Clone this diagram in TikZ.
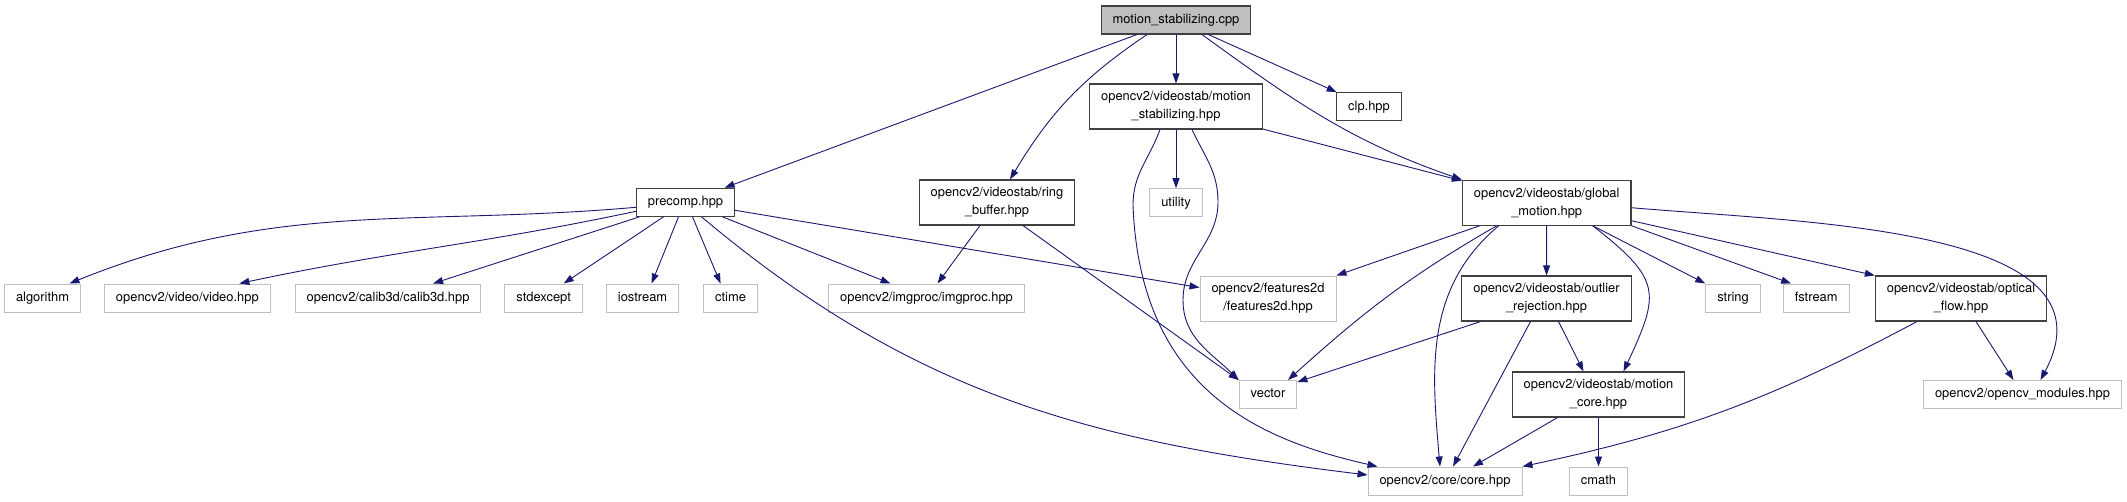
\documentclass[tikz,border=0pt]{standalone}
\usepackage{fontspec}
\setmainfont{TeX Gyre Heros}
\usepackage{xcolor}
\usepackage{tikz}
\usetikzlibrary{arrows.meta, positioning}
\definecolor{edgeblue}{HTML}{191970}
\definecolor{boxgray}{HTML}{BFBFBF}
\definecolor{boxedge}{HTML}{404040}
\newcommand{\hdrfont}{\fontsize{12.9}{18}\selectfont}
\tikzset{
    srcfile/.style={rectangle, draw=boxedge, fill=boxgray, line width=1.1pt, inner xsep=11.5pt, minimum height=28pt, text height=9.4pt, text depth=2.6pt, font=\hdrfont},
    hdrone/.style={rectangle, draw=boxedge, fill=white, line width=1.1pt, inner xsep=11.5pt, minimum height=28pt, text height=9.4pt, text depth=2.6pt, font=\hdrfont},
    hdr/.style={rectangle, draw=boxedge, fill=white, line width=1.1pt, inner xsep=11.5pt, minimum height=45pt, align=center, font=\hdrfont},
    syshdr/.style={rectangle, draw=boxgray, fill=white, line width=1pt, inner xsep=11.5pt, minimum height=28pt, text height=9.4pt, text depth=2.6pt, font=\hdrfont},
    syshdrtwo/.style={rectangle, draw=boxgray, fill=white, line width=1pt, inner xsep=11.5pt, minimum height=45pt, align=center, font=\hdrfont},
    arrow/.style={-{Triangle[length=10pt, width=7pt]}, edgeblue, line width=0.9pt},
}
\begin{document}
\begin{tikzpicture}[x=1pt, y=1pt, node distance=23pt]
    \useasboundingbox (0,0) rectangle (2127,-501);

    % Source file
    \node[srcfile] (root) at (1176,-20) {motion\_stabilizing.cpp};

    % Direct includes
    \node[hdr] (msh) at (1176,-106.5) {opencv2/videostab/motion\\\_stabilizing.hpp};
    \node[hdrone] (clp) at (1369,-106.7) {clp.hpp};
    \node[hdrone] (precomp) at (685.5,-202.3) {precomp.hpp};
    \node[hdr] (ringbuf) at (997,-202.5) {opencv2/videostab/ring\\\_buffer.hpp};
    \node[syshdr] (utility) at (1176,-202.7) {utility};
    \node[hdr] (globalm) at (1546.7,-202.7) {opencv2/videostab/global\\\_motion.hpp};

    % Headers pulled in by precomp.hpp
    \node[syshdr] (algorithm) at (42.5,-298) {algorithm};
    \node[syshdr, right=23pt of algorithm] (video) {opencv2/video/video.hpp};
    \node[syshdr, right=24pt of video] (calib) {opencv2/calib3d/calib3d.hpp};
    \node[syshdr, right=23pt of calib] (stdexcept) {stdexcept};
    \node[syshdr, right=23pt of stdexcept] (iostream) {iostream};
    \node[syshdr, right=24pt of iostream] (ctime) {ctime};
    \node[syshdr] (imgproc) at (926.5,-298) {opencv2/imgproc/imgproc.hpp};
    \node[syshdrtwo] (features) at (1268,-298.5) {opencv2/features2d\\/features2d.hpp};

    % Headers pulled in by global_motion.hpp
    \node[hdr] (outlier) at (1546.5,-298.5) {opencv2/videostab/outlier\\\_rejection.hpp};
    \node[syshdr] (string) at (1733,-298) {string};
    \node[syshdr, right=22pt of string] (fstream) {fstream};
    \node[hdr] (optical) at (1961,-298.5) {opencv2/videostab/optical\\\_flow.hpp};
    \node[syshdr] (vector) at (1268,-394.5) {vector};
    \node[hdr] (motioncore) at (1598.5,-394.5) {opencv2/videostab/motion\\\_core.hpp};
    \node[syshdr] (modules) at (2022.5,-394.5) {opencv2/opencv\_modules.hpp};
    \node[syshdr] (core) at (1445,-481) {opencv2/core/core.hpp};
    \node[syshdr] (cmath) at (1598.5,-481) {cmath};

    % From the source file
    \draw[arrow] (root) -- (precomp);
    \draw[arrow] ([xshift=-29pt]root.south) to[out=-146, in=59] ([xshift=13pt]ringbuf.north);
    \draw[arrow] (root) -- (msh);
    \draw[arrow] (root) -- (clp);
    \draw[arrow] ([xshift=26pt]root.south) to[out=-36, in=161] (globalm.north west);

    % From motion_stabilizing.hpp
    \draw[arrow] (msh) -- (utility);
    \draw[arrow] (msh) -- (globalm);
    \draw[arrow] ([xshift=16pt]msh.south) to[out=-65, in=90] (1218,-202) to[out=-90, in=90] (1183,-300) to[out=-90, in=135] (vector.north west);
    \draw[arrow] ([xshift=-16pt]msh.south) to[out=-110, in=90] (1133,-205) .. controls (1140,-390) and (1260,-440) .. ([xshift=10pt]core.north west);

    % From precomp.hpp
    \draw[arrow] ([yshift=-5pt]precomp.west) to[out=-175, in=22] ([xshift=27pt]algorithm.north);
    \draw[arrow] ([yshift=-9pt]precomp.west) to[out=-168, in=12] ([xshift=52pt]video.north);
    \draw[arrow] ([xshift=-46pt]precomp.south) -- ([xshift=45pt]calib.north);
    \draw[arrow] ([xshift=-22pt]precomp.south) -- ([xshift=20pt]stdexcept.north);
    \draw[arrow] ([xshift=-7pt]precomp.south) -- ([xshift=9pt]iostream.north);
    \draw[arrow] ([xshift=7pt]precomp.south) -- ([xshift=-10pt]ctime.north);
    \draw[arrow] ([xshift=37pt]precomp.south) -- ([xshift=-36pt]imgproc.north);
    \draw[arrow] ([yshift=-8pt]precomp.east) -- ([yshift=11pt]features.west);
    \draw[arrow] ([xshift=16pt]precomp.south) to[out=-40, in=173] ([yshift=6pt]core.west);

    % From ring_buffer.hpp
    \draw[arrow] ([xshift=-17pt]ringbuf.south) -- ([xshift=11pt]imgproc.north);
    \draw[arrow] ([xshift=26pt]ringbuf.south) -- (vector.north west);

    % From global_motion.hpp
    \draw[arrow] ([xshift=-67pt]globalm.south) -- (features.north east);
    \draw[arrow] ([xshift=-50pt]globalm.south) to[out=-150, in=42] ([xshift=20pt]vector.north);
    \draw[arrow] ([xshift=-48pt]globalm.south) to[out=-140, in=95] ([xshift=-5pt]core.north);
    \draw[arrow] (globalm) -- (outlier);
    \draw[arrow] ([xshift=46pt]globalm.south) to[out=-38, in=65, looseness=1.5] ([xshift=25pt]motioncore.north);
    \draw[arrow] ([xshift=46pt]globalm.south) -- (string.north west);
    \draw[arrow] (globalm.south east) -- ([xshift=-25pt]fstream.north);
    \draw[arrow] ([yshift=-18pt]globalm.east) -- (optical.north west);
    \draw[arrow] ([yshift=-5pt]globalm.east) to[out=-5, in=62] ([xshift=18pt]modules.north);

    % From outlier_rejection.hpp
    \draw[arrow] ([xshift=-66pt]outlier.south) -- ([yshift=-2pt]vector.north east);
    \draw[arrow] ([xshift=-16pt]outlier.south) -- ([xshift=8pt]core.north);
    \draw[arrow] ([xshift=12pt]outlier.south) -- ([xshift=-15pt]motioncore.north);

    % From motion_core.hpp and optical_flow.hpp
    \draw[arrow] ([xshift=-41pt]motioncore.south) -- ([xshift=28pt]core.north);
    \draw[arrow] (motioncore) -- (cmath);
    \draw[arrow] ([xshift=-44pt]optical.south) to[out=-152, in=12] (core.north east);
    \draw[arrow] ([xshift=15pt]optical.south) -- ([xshift=-9pt]modules.north);
\end{tikzpicture}
\end{document}
